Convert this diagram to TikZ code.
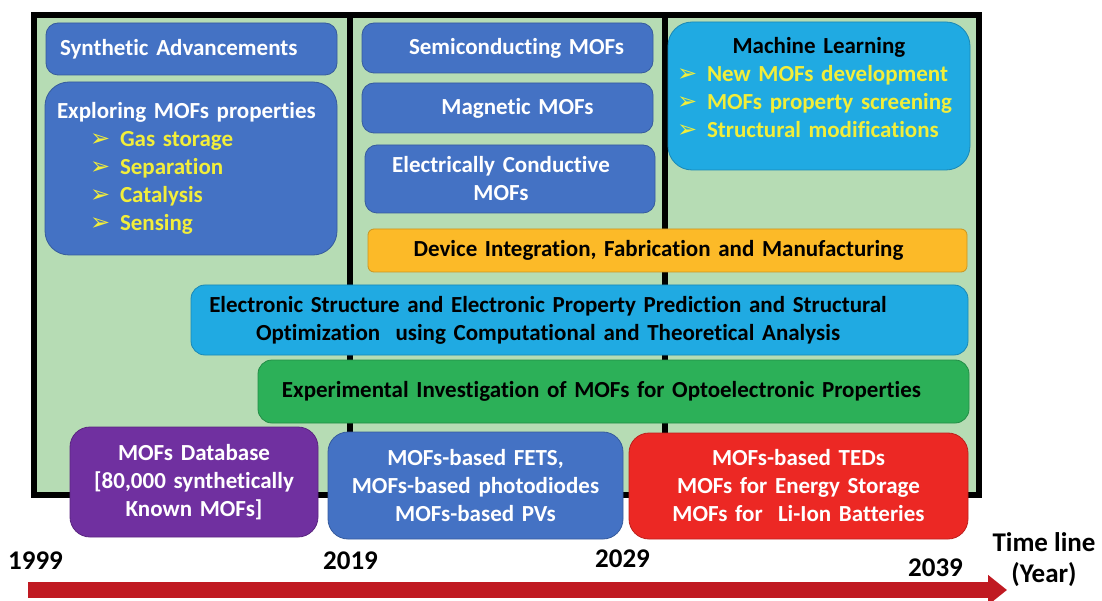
\documentclass[tikz,border=0pt]{standalone}
\usepackage{fontspec}
\setmainfont{Carlito}[Ligatures=NoCommon]
\newfontfamily\symfont{DejaVu Sans}
\usetikzlibrary{arrows.meta}
\definecolor{mofblue}{RGB}{68,114,196}
\definecolor{mofcyan}{RGB}{32,170,226}
\definecolor{moforange}{RGB}{252,186,40}
\definecolor{mofgreen}{RGB}{44,176,88}
\definecolor{mofpurple}{RGB}{112,48,160}
\definecolor{mofred}{RGB}{236,40,36}
\definecolor{paleleaf}{RGB}{182,220,180}
\definecolor{bulletyellow}{RGB}{242,238,58}
\definecolor{timered}{RGB}{192,26,34}
\newcommand{\bul}{\makebox[30pt][l]{\symfont\fontsize{24pt}{24pt}\selectfont ➢}}

\begin{document}
\begin{tikzpicture}[
    x=1pt, y=-1pt,
    frame/.style={draw=black, line width=6pt, fill=paleleaf},
    card/.style={fill=#1, draw=#1!80!black, line width=0.8pt,
                 rounded corners=12pt, inner sep=0pt,
                 font=\fontsize{23pt}{28pt}\selectfont\bfseries, align=center},
    year/.style={font=\fontsize{27pt}{31pt}\selectfont\bfseries, inner sep=0pt, align=center},
    timeline/.style={timered, line width=16pt, -{Triangle[length=19pt,width=29pt]}}
]
\useasboundingbox (0,0) rectangle (1102,601);

% ---------- three time frames ----------
\draw[frame] (33.5,15) rectangle (349.5,495);
\draw[frame] (349.5,15) rectangle (665,495);
\draw[frame] (665,15) rectangle (978.5,495);

% ---------- 1999 - 2019 ----------
\node[card=mofblue, text=white, text width=263, inner xsep=14pt, align=left,
      minimum height=52] (synth) at (191.5,49) {Synthetic Advancements};
\node[card=mofblue, text=white, text width=268, inner xsep=12pt, align=left,
      minimum height=173, rounded corners=24pt] (explore) at (191,168.5)
  {Exploring MOFs properties\\
   \hspace*{33pt}\textcolor{bulletyellow}{\bul Gas storage}\\
   \hspace*{33pt}\textcolor{bulletyellow}{\bul Separation}\\
   \hspace*{33pt}\textcolor{bulletyellow}{\bul Catalysis}\\
   \hspace*{33pt}\textcolor{bulletyellow}{\bul Sensing}};

% ---------- 2019 - 2029 ----------
\node[card=mofblue, text=white, text width=291, minimum height=50] (semi) at (507.5,48)
  {\hspace*{18pt}Semiconducting MOFs};
\node[card=mofblue, text=white, text width=291, minimum height=50] (magnetic) at (507.5,108)
  {\hspace*{20pt}Magnetic MOFs};
\node[card=mofblue, text=white, text width=290, minimum height=68] (conductive) at (510,179)
  {\hspace*{-18pt}Electrically Conductive\\\hspace*{-18pt}MOFs};

% ---------- 2029 - 2039 ----------
\node[card=mofcyan, text width=302, minimum height=148, rounded corners=24pt] (ml) at (819,96) {};
\node[font=\fontsize{23pt}{28pt}\selectfont\bfseries, text width=284, inner sep=0pt,
      align=left, anchor=north] (mltext) at ([yshift=-16pt]ml.north)
  {\makebox[\linewidth][c]{Machine Learning}\\
   \textcolor{bulletyellow}{\bul New MOFs development}\\
   \textcolor{bulletyellow}{\bul MOFs property screening}\\
   \textcolor{bulletyellow}{\bul Structural modifications}};

% ---------- bands across the frames ----------
\node[card=moforange, text width=599, minimum height=43, rounded corners=6pt] (device) at (667.5,250.5)
  {\hspace*{-18pt}Device Integration, Fabrication and Manufacturing};
\node[card=mofcyan, text width=777, minimum height=70, rounded corners=14pt] (theory) at (579.5,320)
  {\hspace*{-63pt}Electronic Structure and Electronic Property Prediction and Structural\\
   \hspace*{-63pt}Optimization\ \ using Computational and Theoretical Analysis};
\node[card=mofgreen, text width=711, minimum height=63, rounded corners=14pt] (experiment) at (613.5,391.5)
  {\hspace*{-24pt}Experimental Investigation of MOFs for Optoelectronic Properties};

% ---------- applications ----------
\node[card=mofpurple, text=white, text width=248, minimum height=110, rounded corners=20pt] (database) at (194,482)
  {MOFs Database\\{[}80,000 synthetically\\Known MOFs{]}};
\node[card=mofblue, text=white, text width=295, minimum height=107, rounded corners=20pt] (fets) at (475.5,485.5)
  {MOFs-based FETS,\\MOFs-based photodiodes\\MOFs-based PVs};
\node[card=mofred, text=white, text width=339, minimum height=106, rounded corners=20pt] (teds) at (798.5,486)
  {MOFs-based TEDs\\MOFs for Energy Storage\\MOFs for\ \ Li-Ion Batteries};

% ---------- time line ----------
\node[year] (y1999) at (35.5,561) {1999};
\node[year] (y2019) at (350.5,561) {2019};
\node[year] (y2029) at (622.5,559) {2029};
\node[year] (y2039) at (935.5,567.5) {2039};
\node[year] (tllabel) at (1044,560) {Time line\\(Year)};
\coordinate (tlstart) at (28,590);
\coordinate (tlend) at (1007,590);
\draw[timeline] (tlstart) -- (tlend);

\end{tikzpicture}
\end{document}
